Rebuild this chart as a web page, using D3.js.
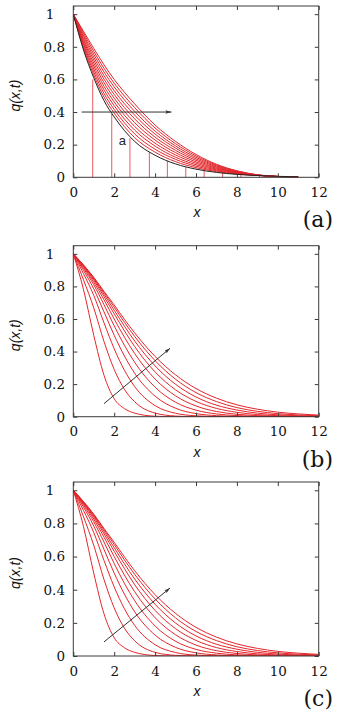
<!DOCTYPE html>
<html><head><meta charset="utf-8">
<script src="https://cdn.jsdelivr.net/npm/d3@7"></script>
<style>
html,body{margin:0;padding:0;background:#fff;}
svg{display:block;}
.serif{font-family:"DejaVu Serif","Liberation Serif",serif;}
.sans{font-family:"Liberation Sans","DejaVu Sans",sans-serif;}
</style></head>
<body><div id="chart"></div>
<script>
// ---------- data ----------
const xTicks = [0, 2, 4, 6, 8, 10, 12];
const yTicks = [0, 0.2, 0.4, 0.6, 0.8, 1];
const panelLabels = ["(a)", "(b)", "(c)"];

// panel (a)
const xA = [0, 0.5, 1, 1.5, 2, 3, 4, 5, 6, 7, 8, 9, 10, 11];
const blackA = [1, 0.78, 0.61, 0.47, 0.37, 0.22, 0.135, 0.082, 0.05, 0.03, 0.018, 0.011, 0.006, 0.003];
const curvesA = [
  [1, 0.792, 0.628, 0.492, 0.393, 0.243, 0.154, 0.096, 0.059, 0.035, 0.020, 0.011, 0.005, 0],
  [1, 0.803, 0.646, 0.514, 0.416, 0.266, 0.172, 0.110, 0.068, 0.040, 0.022, 0.012, 0.005, 0],
  [1, 0.815, 0.664, 0.536, 0.439, 0.289, 0.191, 0.123, 0.077, 0.045, 0.025, 0.012, 0.005, 0],
  [1, 0.826, 0.682, 0.558, 0.462, 0.312, 0.209, 0.137, 0.086, 0.050, 0.027, 0.013, 0.005, 0],
  [1, 0.838, 0.700, 0.580, 0.485, 0.335, 0.228, 0.151, 0.095, 0.055, 0.029, 0.013, 0.005, 0],
  [1, 0.849, 0.718, 0.602, 0.508, 0.358, 0.246, 0.165, 0.104, 0.060, 0.031, 0.013, 0.005, 0],
  [1, 0.861, 0.736, 0.624, 0.531, 0.381, 0.265, 0.179, 0.113, 0.065, 0.033, 0.014, 0.005, 0],
  [1, 0.872, 0.754, 0.646, 0.554, 0.404, 0.283, 0.192, 0.122, 0.070, 0.036, 0.014, 0.004, 0],
  [1, 0.884, 0.772, 0.668, 0.577, 0.427, 0.302, 0.206, 0.131, 0.075, 0.038, 0.015, 0.004, 0],
  [1, 0.895, 0.790, 0.690, 0.600, 0.450, 0.320, 0.220, 0.140, 0.080, 0.040, 0.015, 0.004, 0]
];
const stemX = [0.95, 1.88, 2.77, 3.72, 4.6, 5.5, 6.4, 7.3, 8.2, 9.1];
const stemY = [0.6, 0.39, 0.24, 0.155, 0.1, 0.064, 0.041, 0.026, 0.017, 0.011];
const arrowA = [[0.41, 0.4], [4.8, 0.4]];
const noteA = {x: 2.4, y: 0.225, text: "a"};

// panel (b)
const xB = [0, 0.5, 1, 1.5, 2, 2.5, 3, 4, 5, 6, 7, 8, 9, 10, 11, 12];
const curvesB = [
  [1, 0.780, 0.500, 0.255, 0.110, 0.050, 0.022, 0.003, 0, 0, 0, 0, 0, 0, 0, 0],
  [1, 0.840, 0.668, 0.462, 0.290, 0.168, 0.092, 0.022, 0.004, 0, 0, 0, 0, 0, 0, 0],
  [1, 0.878, 0.745, 0.577, 0.417, 0.285, 0.185, 0.068, 0.021, 0.0055, 0.0013, 0.0003, 0, 0, 0, 0],
  [1, 0.898, 0.785, 0.644, 0.500, 0.373, 0.267, 0.126, 0.052, 0.019, 0.0065, 0.002, 0.0006, 0, 0, 0],
  [1, 0.910, 0.810, 0.688, 0.558, 0.438, 0.334, 0.181, 0.089, 0.040, 0.017, 0.0067, 0.0025, 0.0008, 0.0003, 0.0001],
  [1, 0.918, 0.826, 0.718, 0.600, 0.488, 0.388, 0.231, 0.128, 0.066, 0.032, 0.015, 0.0066, 0.0027, 0.0011, 0.0004],
  [1, 0.923, 0.838, 0.738, 0.632, 0.527, 0.431, 0.275, 0.165, 0.094, 0.051, 0.027, 0.013, 0.0064, 0.0029, 0.0013],
  [1, 0.927, 0.846, 0.752, 0.654, 0.556, 0.465, 0.312, 0.199, 0.121, 0.071, 0.041, 0.022, 0.0117, 0.006, 0.003],
  [1, 0.930, 0.852, 0.763, 0.673, 0.580, 0.493, 0.344, 0.230, 0.148, 0.093, 0.056, 0.033, 0.019, 0.0107, 0.0059],
  [1, 0.932, 0.856, 0.770, 0.686, 0.598, 0.515, 0.370, 0.257, 0.173, 0.114, 0.073, 0.046, 0.028, 0.017, 0.0098]
];
const arrowB = [[1.5, 0.08], [4.73, 0.42]];

// panel (c)
const xC = [0, 0.5, 1, 1.5, 2, 2.5, 3, 4, 5, 6, 7, 8, 9, 10, 11, 12];
const curvesC = [
  [1, 0.780, 0.500, 0.255, 0.110, 0.050, 0.022, 0.003, 0, 0, 0, 0, 0, 0, 0, 0],
  [1, 0.840, 0.668, 0.462, 0.290, 0.168, 0.092, 0.022, 0.004, 0, 0, 0, 0, 0, 0, 0],
  [1, 0.878, 0.745, 0.577, 0.417, 0.285, 0.185, 0.068, 0.021, 0.0055, 0.0013, 0.0003, 0, 0, 0, 0],
  [1, 0.898, 0.785, 0.644, 0.500, 0.373, 0.267, 0.126, 0.052, 0.019, 0.0065, 0.002, 0.0006, 0, 0, 0],
  [1, 0.910, 0.810, 0.688, 0.558, 0.438, 0.334, 0.181, 0.089, 0.040, 0.017, 0.0067, 0.0025, 0.0008, 0.0003, 0.0001],
  [1, 0.918, 0.826, 0.718, 0.600, 0.488, 0.388, 0.231, 0.128, 0.066, 0.032, 0.015, 0.0066, 0.0027, 0.0011, 0.0004],
  [1, 0.923, 0.838, 0.738, 0.632, 0.527, 0.431, 0.275, 0.165, 0.094, 0.051, 0.027, 0.013, 0.0064, 0.0029, 0.0013],
  [1, 0.927, 0.846, 0.752, 0.654, 0.556, 0.465, 0.312, 0.199, 0.121, 0.071, 0.041, 0.022, 0.0117, 0.006, 0.003],
  [1, 0.930, 0.852, 0.763, 0.673, 0.580, 0.493, 0.344, 0.230, 0.148, 0.093, 0.056, 0.033, 0.019, 0.0107, 0.0059],
  [1, 0.932, 0.856, 0.770, 0.686, 0.598, 0.515, 0.370, 0.257, 0.173, 0.114, 0.073, 0.046, 0.028, 0.017, 0.0098]
];
const arrowC = [[1.5, 0.085], [4.73, 0.41]];

// ---------- layout ----------
const W = 352, H = 716;
const left = 73.3, right = 318.7;
const panels = [
  {top: 6, bottom: 177.3, xs: xA, curves: curvesA, arrow: arrowA, label: panelLabels[0]},
  {top: 245.7, bottom: 416.7, xs: xB, curves: curvesB, arrow: arrowB, label: panelLabels[1]},
  {top: 482, bottom: 656, xs: xC, curves: curvesC, arrow: arrowC, label: panelLabels[2]}
];
const RED = "#e3262b", FRAME = "#3a3a3a";

const svg = d3.select("#chart").append("svg").attr("width", W).attr("height", H);
const defs = svg.append("defs");
defs.append("marker").attr("id", "ah").attr("viewBox", "0 0 10 6")
  .attr("refX", 10).attr("refY", 3).attr("markerWidth", 7).attr("markerHeight", 3.6)
  .attr("markerUnits", "userSpaceOnUse").attr("orient", "auto")
  .append("path").attr("d", "M0,0 L10,3 L0,6 L2,3 Z").attr("fill", "#333");

panels.forEach((p, i) => {
  const x = d3.scaleLinear().domain([0, 12]).range([left, right]);
  const y = d3.scaleLinear().domain([0, 1.05]).range([p.bottom, p.top]);
  const g = svg.append("g");
  const clipId = "clip" + i;
  defs.append("clipPath").attr("id", clipId).append("rect")
    .attr("x", left).attr("y", p.top).attr("width", right - left).attr("height", p.bottom - p.top);

  const plot = g.append("g").attr("clip-path", `url(#${clipId})`);
  const line = d3.line().x(d => x(d[0])).y(d => y(d[1])).curve(d3.curveMonotoneX);

  if (i === 0) {
    plot.selectAll(".stem").data(stemX.map((v, k) => [v, stemY[k]])).enter().append("line")
      .attr("x1", d => x(d[0])).attr("x2", d => x(d[0]))
      .attr("y1", y(0)).attr("y2", d => y(d[1]))
      .attr("stroke", "#e65a5e").attr("stroke-width", 1);
  }
  p.curves.forEach(c => {
    plot.append("path").datum(p.xs.map((v, k) => [v, c[k]]))
      .attr("d", line).attr("fill", "none").attr("stroke", RED).attr("stroke-width", 1);
  });
  if (i === 0) {
    plot.append("path").datum(xA.map((v, k) => [v, blackA[k]]))
      .attr("d", line).attr("fill", "none").attr("stroke", "#222").attr("stroke-width", 1);
    g.append("text").attr("class", "sans").attr("x", x(noteA.x)).attr("y", y(noteA.y)).attr("dy", "0.35em")
      .attr("text-anchor", "middle").style("font-size", "13px")
      .attr("fill", "#222").text(noteA.text);
  }
  g.append("line")
    .attr("x1", x(p.arrow[0][0])).attr("y1", y(p.arrow[0][1]))
    .attr("x2", x(p.arrow[1][0])).attr("y2", y(p.arrow[1][1]))
    .attr("stroke", "#333").attr("stroke-width", 1).attr("marker-end", "url(#ah)");

  // axes
  g.append("g").attr("transform", `translate(0,${p.bottom})`)
    .call(d3.axisBottom(x).tickValues(xTicks).tickFormat(d3.format("d"))
      .tickSizeInner(-4).tickSizeOuter(0).tickPadding(10));
  const ay = g.append("g").attr("transform", `translate(${left},0)`)
    .call(d3.axisLeft(y).tickValues(yTicks).tickFormat(d => d === 0 ? "0" : d === 1 ? "1" : d3.format(".1f")(d))
      .tickSizeInner(-4).tickSizeOuter(0).tickPadding(8.3));
  ay.selectAll(".tick text").filter(d => d === 1).attr("x", -19);
  g.append("g").attr("transform", `translate(0,${p.top})`)
    .call(d3.axisTop(x).tickValues(xTicks).tickFormat("").tickSizeInner(-4).tickSizeOuter(0));
  g.append("g").attr("transform", `translate(${right},0)`)
    .call(d3.axisRight(y).tickValues(yTicks).tickFormat("").tickSizeInner(-4).tickSizeOuter(0));
  g.selectAll(".domain").remove();
  g.selectAll("g[font-family]").attr("font-family", null);
  g.selectAll(".tick line").attr("stroke", FRAME);
  g.selectAll(".tick text").attr("class", "serif").style("font-size", "13.5px").attr("fill", "#111");

  g.append("rect").attr("x", left).attr("y", p.top).attr("width", right - left)
    .attr("height", p.bottom - p.top).attr("fill", "none").attr("stroke", FRAME).attr("stroke-width", 1);

  // labels
  const midY = (p.top + p.bottom) / 2;
  g.append("text").attr("class", "sans").attr("transform", `translate(20,${midY + 4}) rotate(-90)`)
    .attr("text-anchor", "middle").style("font-style", "italic")
    .style("font-size", "14px").attr("fill", "#111").text("q(x,t)");
  g.append("text").attr("class", "sans").attr("x", 197).attr("y", p.bottom + 40)
    .attr("text-anchor", "middle").style("font-style", "italic")
    .style("font-size", "14px").attr("fill", "#111").text("x");
  g.append("text").attr("class", "serif").attr("x", 333).attr("y", p.bottom + 50)
    .attr("text-anchor", "end")
    .style("font-size", "22px").attr("fill", "#111").text(p.label);
});
</script></body></html>
